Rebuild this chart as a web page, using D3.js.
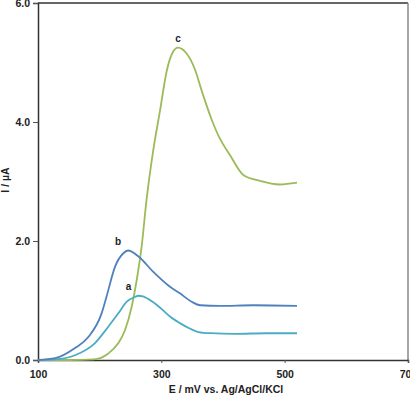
<!DOCTYPE html>
<html><head><meta charset="utf-8">
<script src="https://cdn.jsdelivr.net/npm/d3@7"></script>
<style>body{margin:0;background:#fff}svg{display:block}text{font-family:"Liberation Sans",Arial,sans-serif;font-weight:bold;fill:#222}</style>
</head><body>
<svg id="c" width="410" height="403"></svg>
<script>
const xTicks = [100, 300, 500, 700];
const yTicks = [0, 2, 4, 6];
const seriesA_E = [100,128,160,192,214,230,244,257,263,270,287,300,314,330,346,360,380,420,470,520];
const seriesA_I = [0,0.01,0.08,0.28,0.56,0.78,0.98,1.06,1.08,1.07,0.97,0.86,0.73,0.62,0.53,0.47,0.45,0.44,0.45,0.45];
const seriesB_E = [100,128,160,182,203,211,225,238,246,263,287,314,330,349,363,395,449,520];
const seriesB_I = [0,0.03,0.2,0.39,0.78,1.06,1.57,1.79,1.84,1.74,1.48,1.23,1.12,0.98,0.92,0.91,0.92,0.91];
const seriesC_E = [100,150,190,214,230,241,252,260,268,276,287,298,309,319,327,341,355,365,382,395,411,433,460,492,520];
const seriesC_I = [0,0,0.01,0.11,0.28,0.5,0.9,1.34,1.9,2.69,3.53,4.2,4.87,5.18,5.25,5.15,4.87,4.54,4.03,3.72,3.45,3.11,3.01,2.95,2.98];
const labels = ["a","b","c"];
const colors = ["#4bacc6","#4f81bd","#9bbb59"];

const svg = d3.select("#c");
const L=38, R=408, T=3, B=360;
const x = d3.scaleLinear().domain([100,700]).range([L,R]);
const y = d3.scaleLinear().domain([0,6]).range([B,T]);

// frame
svg.append("line").attr("x1",L).attr("x2",R).attr("y1",T).attr("y2",T).attr("stroke","#333").attr("stroke-width",1.5);
svg.append("line").attr("x1",R).attr("x2",R).attr("y1",T).attr("y2",B).attr("stroke","#888").attr("stroke-width",1.5);

const xa = svg.append("g").attr("transform",`translate(0,${B})`)
  .call(d3.axisBottom(x).tickValues(xTicks).tickSize(3).tickPadding(8).tickFormat(d3.format("d")));
const ya = svg.append("g").attr("transform",`translate(${L},0)`)
  .call(d3.axisLeft(y).tickValues(yTicks).tickSize(5).tickPadding(3).tickFormat(d3.format(".1f")));
[xa,ya].forEach(g=>{
  g.select(".domain").attr("stroke","#333").attr("stroke-width",1.5);
  g.selectAll(".tick line").attr("stroke","#555");
  g.selectAll("text").attr("font-size",10.5).attr("font-family","Liberation Sans, Arial, sans-serif").attr("font-weight","bold").attr("fill","#222");
});

const data = [
  seriesA_E.map((e,i)=>[e,seriesA_I[i]]),
  seriesB_E.map((e,i)=>[e,seriesB_I[i]]),
  seriesC_E.map((e,i)=>[e,seriesC_I[i]])
];
const line = d3.line().x(d=>x(d[0])).y(d=>y(d[1])).curve(d3.curveMonotoneX);
[2,0,1].forEach(k=>{
  svg.append("path").attr("d",line(data[k])).attr("fill","none").attr("stroke",colors[k]).attr("stroke-width",1.8);
});

// peak labels
data.forEach((s,k)=>{
  const pk = s.reduce((a,b)=>b[1]>a[1]?b:a);
  svg.append("text").attr("x",x(pk[0])-(k===2?0:10)).attr("y",y(pk[1])-6)
    .attr("text-anchor","middle").attr("font-size",10).text(labels[k]);
});

svg.append("text").attr("x",226).attr("y",393).attr("text-anchor","middle").attr("font-size",10.5).text("E / mV vs. Ag/AgCl/KCl");
svg.append("text").attr("transform","translate(9,180) rotate(-90)").attr("text-anchor","middle").attr("font-size",10.5).text("I / µA");
</script>
</body></html>
